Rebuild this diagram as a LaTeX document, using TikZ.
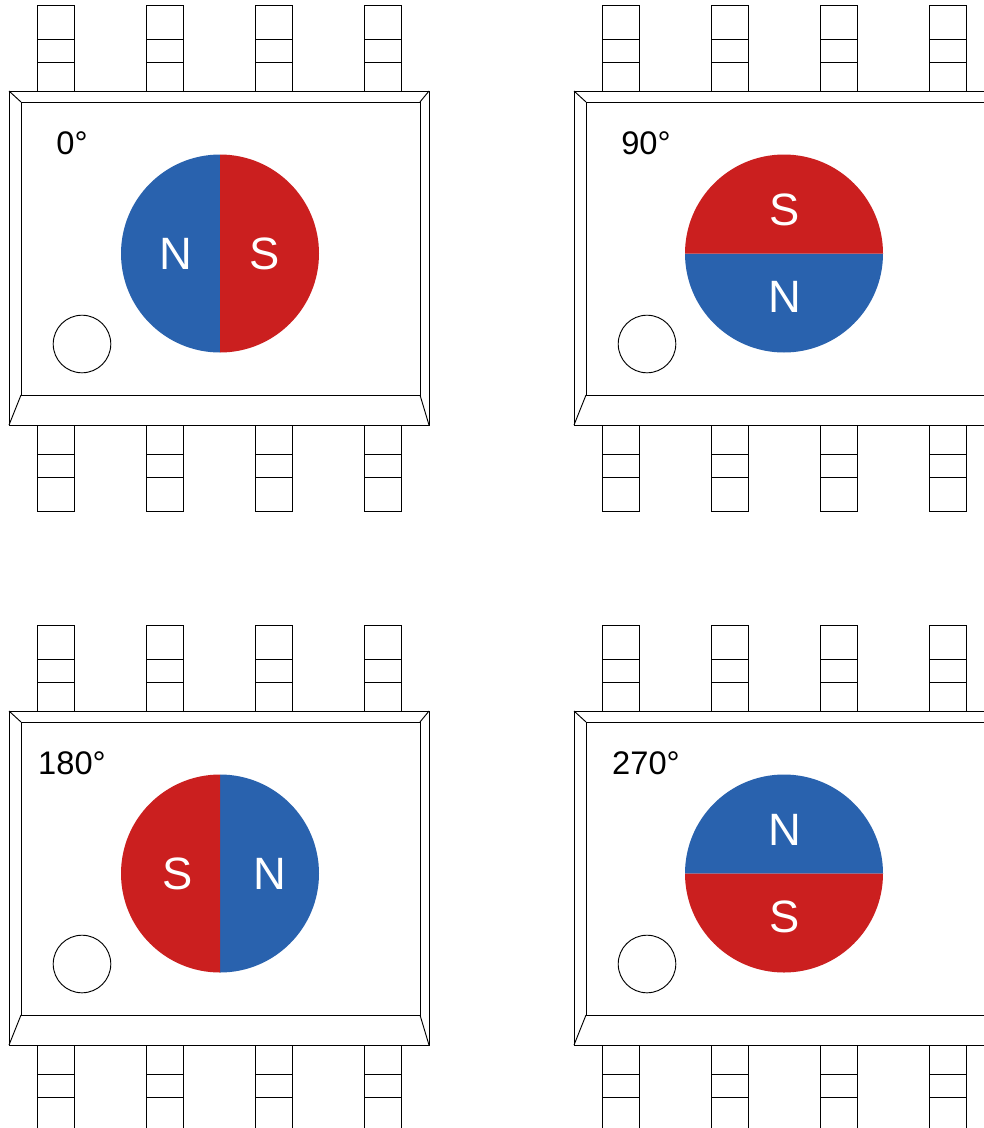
\documentclass[tikz,border=0pt]{standalone}
\usepackage{fontspec}
\setmainfont{Liberation Sans}
\definecolor{magblue}{HTML}{2962AE}
\definecolor{magred}{HTML}{CB1F1F}
\tikzset{
  outline/.style={draw=black,line width=0.7pt,fill=white},
  poletext/.style={text=white,font=\fontsize{34}{34}\selectfont,inner sep=0pt},
  angletext/.style={text=black,font=\fontsize{24.5}{24.5}\selectfont,inner sep=0pt},
}
\begin{document}
\begin{tikzpicture}[x=0.75pt,y=-0.75pt]
\useasboundingbox (0,0) rectangle (984,1128);
\clip (0,0) rectangle (984,1128);
\foreach \dx/\dy/\ang/\mx/\lblx/\lbl/\nx/\ny/\sx/\sy in {
  0/0/0/220/72/0°/-44/0/45/0,
  565/0/90/219/81/90°/0.5/43.5/0.5/-43.5,
  0/620/180/220/72/180°/50/0/-42/0,
  565/620/270/219/81/270°/0.5/-43.5/0.5/43}{
  \begin{scope}[shift={(\dx,\dy)}]
    % pins
    \foreach \px in {37,146,255,364}{
      \draw[outline] (\px,5.5) rectangle ++(37,85.5);
      \draw[line width=0.7pt] (\px,39.5) -- ++(37,0) (\px,62) -- ++(37,0);
      \draw[outline] (\px,425) rectangle ++(37,86);
      \draw[line width=0.7pt] (\px,454.5) -- ++(37,0) (\px,477) -- ++(37,0);
    }
    % package body
    \draw[outline] (9,91) rectangle (429,425);
    \draw[outline] (21,102) rectangle (420,395);
    \draw[line width=0.7pt] (9,91) -- (21,102) (429,91) -- (420,102)
      (9,425) -- (21,395) (429,425) -- (420,395);
    % pin-one mark
    \draw[outline] (82,344) circle[radius=21.6pt];
    % magnet halves
    \fill[magblue] (\mx,253.5) ++({90+\ang}:74.25pt)
      arc[start angle={90+\ang},delta angle=180,radius=74.25pt] -- cycle;
    \fill[magred] (\mx,253.5) ++({270+\ang}:74.25pt)
      arc[start angle={270+\ang},delta angle=180,radius=74.25pt] -- cycle;
    \node[poletext] (n\ang) at (\mx+\nx,253.5+\ny) {N};
    \node[poletext] (s\ang) at (\mx+\sx,253.5+\sy) {S};
    \node[angletext] (a\ang) at (\lblx,143) {\lbl};
  \end{scope}
}
\end{tikzpicture}
\end{document}
